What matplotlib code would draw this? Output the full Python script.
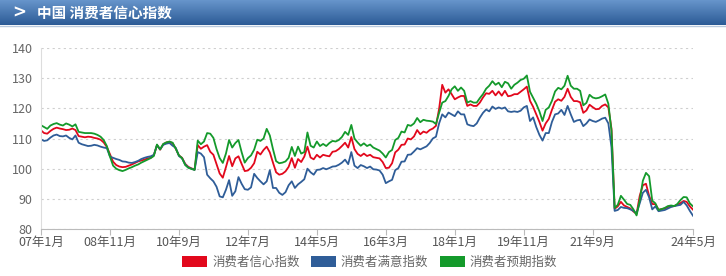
import numpy as np
import matplotlib.pyplot as plt
from matplotlib.patches import Patch
from matplotlib.lines import Line2D
from matplotlib.colors import LinearSegmentedColormap

plt.rcParams['font.family'] = ['Noto Sans CJK SC', 'DejaVu Sans']

# monthly values, 2007-01 .. 2024-05 (one row per year)
conf_idx = [
    112.7, 111.8, 111.6, 112.5, 113.2, 113.6, 113.3, 113.1, 112.8, 112.9, 113.3, 112.8,
    110.8, 110.6, 110.4, 110.6, 110.5, 110.2, 110.0, 109.6, 108.7, 107.2, 104.8, 102.3,
    101.2, 100.7, 100.5, 100.6, 101.0, 101.4, 101.9, 102.4, 102.7, 103.0, 103.4, 103.6,
    104.5, 107.8, 106.3, 108.1, 108.7, 108.9, 108.4, 106.6, 104.4, 103.6, 101.6, 100.6,
    100.1, 99.7, 107.8, 106.6, 107.3, 107.8, 105.6, 104.6, 101.5, 98.4, 97.0, 100.5,
    104.2, 100.8, 103.4, 104.1, 101.6, 99.2, 99.4, 100.3, 101.8, 105.6, 104.7, 106.2,
    107.3, 105.4, 102.0, 98.8, 98.0, 98.3, 99.1, 100.6, 103.5, 100.3, 103.2, 102.2,
    104.0, 107.3, 103.7, 103.1, 104.6, 103.7, 104.6, 104.3, 104.1, 105.6, 105.8, 106.5,
    107.5, 108.6, 107.0, 110.5, 106.5, 104.9, 104.2, 105.0, 104.2, 104.6, 103.8, 103.6,
    103.4, 102.2, 100.2, 100.3, 101.8, 105.4, 106.3, 107.9, 108.0, 110.0, 109.7, 110.7,
    112.8, 111.4, 112.3, 111.9, 112.8, 113.3, 114.2, 119.8, 127.8, 125.2, 126.3, 124.7,
    123.0, 123.6, 124.1, 124.1, 120.8, 121.3, 120.8, 120.8, 121.9, 123.6, 125.0, 124.8,
    125.8, 124.3, 125.6, 124.2, 125.8, 124.0, 124.2, 124.7, 124.7, 125.5, 126.3, 127.2,
    122.5, 120.5, 118.0, 115.5, 112.6, 115.0, 116.5, 119.5, 122.2, 123.0, 122.5, 123.8,
    126.5, 123.8, 122.4, 122.4, 122.0, 118.5, 119.3, 121.2, 120.4, 119.7, 119.8, 120.8,
    121.3, 120.3, 113.2, 86.7, 87.5, 89.0, 87.8, 87.3, 86.8, 85.8, 85.0, 91.0,
    94.5, 95.0, 91.0, 88.3, 88.2, 86.4, 86.6, 86.8, 87.3, 87.5, 87.6, 88.0,
    88.6, 89.3, 89.0, 87.5, 86.4,
]
satis_idx = [
    109.7, 109.2, 109.4, 110.3, 111.0, 111.3, 110.8, 110.7, 111.0, 110.2, 109.7, 111.0,
    108.6, 108.1, 107.8, 107.5, 107.6, 107.9, 107.7, 107.3, 107.0, 106.8, 104.0, 103.6,
    103.2, 102.9, 102.4, 102.3, 102.0, 101.9, 102.2, 102.6, 103.2, 103.6, 103.9, 104.1,
    104.6, 107.8, 106.4, 107.9, 108.3, 108.5, 107.6, 106.9, 104.2, 103.4, 101.4, 100.4,
    100.0, 99.6, 105.5, 105.0, 103.8, 98.0, 96.8, 95.8, 94.0, 90.8, 90.5, 93.0,
    96.2, 91.0, 92.5, 97.2, 95.0, 93.2, 93.0, 93.8, 98.3, 96.9, 95.8, 94.8,
    95.8, 99.5, 93.6, 93.6, 92.0, 91.3, 92.2, 94.5, 95.8, 93.6, 94.8, 95.6,
    96.5, 100.0, 98.8, 98.0, 99.6, 99.7, 100.2, 99.8, 100.2, 100.7, 100.8, 101.3,
    102.0, 103.0, 101.5, 105.5, 101.0, 100.2, 101.2, 100.8, 100.2, 100.7, 99.8, 99.7,
    99.4, 98.0, 95.2, 95.8, 96.3, 99.5, 100.2, 102.3, 102.4, 104.6, 104.7, 105.7,
    106.8, 106.4, 106.9, 107.4, 108.5, 110.0, 110.6, 115.0, 118.0, 117.0, 118.6, 118.0,
    117.4, 119.0, 118.0, 118.0, 114.7, 114.3, 114.1, 115.0, 116.9, 118.5, 119.6, 119.0,
    120.6, 119.8, 120.3, 119.9, 120.3, 119.0, 118.8, 119.0, 118.8, 119.2, 120.3, 120.8,
    115.8, 117.0, 113.8, 111.2, 109.3, 111.8, 111.8, 115.5, 118.0, 118.3, 119.5, 117.8,
    120.8, 118.0, 115.5, 116.0, 116.2, 114.1, 115.0, 116.3, 115.8, 115.5, 116.0, 116.6,
    116.9, 115.0, 107.0, 86.0, 86.3, 87.3, 87.0, 86.9, 86.5, 86.0, 85.2, 88.5,
    92.0, 93.0, 90.5, 86.5, 87.5, 85.9, 86.1, 86.3, 86.8, 87.3, 87.6, 87.8,
    88.0, 89.0, 87.8, 86.0, 84.4,
]
expect_idx = [
    114.4, 113.8, 113.2, 114.3, 114.8, 115.1, 114.6, 114.3, 115.0, 114.6, 114.0, 114.7,
    112.2, 112.0, 111.8, 111.8, 111.8, 111.6, 111.2, 110.6, 109.5, 107.5, 104.0, 101.0,
    100.0, 99.5, 99.2, 99.6, 100.1, 100.5, 101.0, 101.4, 102.0, 102.5, 103.0, 103.5,
    104.2, 108.0, 106.4, 108.2, 108.7, 109.0, 108.6, 106.6, 104.4, 103.5, 101.2, 100.3,
    99.9, 99.6, 109.3, 108.1, 109.0, 111.8, 111.6, 110.2, 106.5, 103.5, 101.9, 105.0,
    109.5, 107.0, 108.5, 109.5, 105.5, 102.0, 103.5, 104.4, 106.3, 109.6, 109.2, 110.0,
    113.2, 111.0, 106.5, 102.5, 101.8, 102.0, 102.4, 103.6, 107.2, 104.2, 107.3, 105.0,
    105.5, 112.0, 107.6, 107.0, 109.0, 107.5, 108.2, 107.5, 108.5, 109.2, 109.0, 109.5,
    110.5, 112.2, 111.2, 114.5, 110.0, 108.7, 107.6, 108.4, 107.5, 108.0, 107.0, 106.5,
    106.0, 105.0, 103.7, 105.5, 106.2, 109.5, 110.2, 112.3, 112.0, 114.5, 114.2, 115.0,
    116.8, 115.4, 116.2, 115.9, 115.8, 115.6, 114.8, 118.5, 121.9, 122.4, 124.1, 126.3,
    127.3, 125.8, 126.9, 125.8, 121.9, 122.4, 121.9, 121.9, 123.4, 124.7, 126.5, 127.5,
    129.0, 127.8, 128.5, 127.0, 128.8, 128.3, 126.5, 127.8, 128.5, 129.4, 129.8, 130.9,
    125.5, 123.5, 121.5, 119.0, 115.8, 119.5, 120.3, 122.5, 125.6, 126.8, 126.3, 127.5,
    130.8, 127.5, 126.5, 126.5, 125.8, 121.0, 121.8, 124.5, 123.6, 123.3, 123.5, 124.0,
    124.6, 121.5, 112.5, 87.0, 88.0, 91.0, 89.7, 88.3, 88.0, 86.5, 84.5, 89.5,
    96.0, 98.6, 97.5, 89.4, 88.5, 86.3, 86.6, 87.0, 87.6, 87.8, 87.6, 88.3,
    89.6, 90.6, 90.5, 88.5, 87.5,
]

series_names = ['消费者信心指数', '消费者满意指数', '消费者预期指数']
series_colors = ['#e2081c', '#2f5d98', '#149a2b']
months = [f'{(2007 + k // 12) % 100:02d}年{k % 12 + 1}月' for k in range(len(conf_idx))]
tick_idx = [0, 22, 44, 66, 88, 110, 132, 154, 176, 208]
y_ticks = [80, 90, 100, 110, 120, 130, 140]

W, H = 726, 276
fig = plt.figure(figsize=(W / 100, H / 100), dpi=100)

# header bar with gradient
hdr = fig.add_axes([0, 1 - 25 / H, 1, 25 / H])
cmap = LinearSegmentedColormap.from_list('hdr', ['#6795cb', '#2c5b96'])
hdr.imshow(np.linspace(0, 1, 64).reshape(-1, 1), aspect='auto', cmap=cmap,
           extent=[0, 1, 0, 1])
hdr.set_xlim(0, 1)
hdr.set_ylim(0, 1)
hdr.axis('off')
hdr.text(12 / W, 0.5, '>', color='white', fontsize=12, fontweight='bold',
         family='DejaVu Sans', va='center', ha='left')
hdr.text(37 / W, 0.5, '中国 消费者信心指数', color='white', fontsize=10.5,
         fontweight='bold', va='center', ha='left')
fig.add_artist(Line2D([0, 1], [1 - 26 / H, 1 - 26 / H], color='#b9c9dd', lw=1))

# main chart
ax = fig.add_axes([41 / W, 47 / H, 652 / W, 181 / H])
x = np.arange(len(conf_idx))
for vals, c in zip([conf_idx, satis_idx, expect_idx], series_colors):
    ax.plot(x, vals, color=c, lw=1.3, solid_joinstyle='round')

ax.set_xlim(0, len(conf_idx) - 1)
ax.set_ylim(80, 140)
ax.set_yticks(y_ticks)
ax.yaxis.grid(True, linestyle=(0, (2, 3)), color='#cfcfcf', lw=0.8)
ax.set_axisbelow(True)
ax.set_xticks(tick_idx, [months[k] for k in tick_idx])
ax.tick_params(axis='y', length=0, labelsize=9, labelcolor='#666666', pad=6)
ax.tick_params(axis='x', length=4, color='#bbbbbb', labelsize=9,
               labelcolor='#555555', pad=1)
for s in ['top', 'right']:
    ax.spines[s].set_visible(False)
ax.spines['left'].set_color('#dddddd')
ax.spines['bottom'].set_color('#bbbbbb')

handles = [Patch(facecolor=c, edgecolor='none', label=n)
           for n, c in zip(series_names, series_colors)]
fig.legend(handles=handles, loc='center', bbox_to_anchor=(0.509, 14 / H),
           ncol=3, frameon=False, fontsize=9, handlelength=2.0, handleheight=1.0,
           handletextpad=0.4, columnspacing=0.9, labelcolor='#666666')

fig.savefig('out.png', dpi=100)
